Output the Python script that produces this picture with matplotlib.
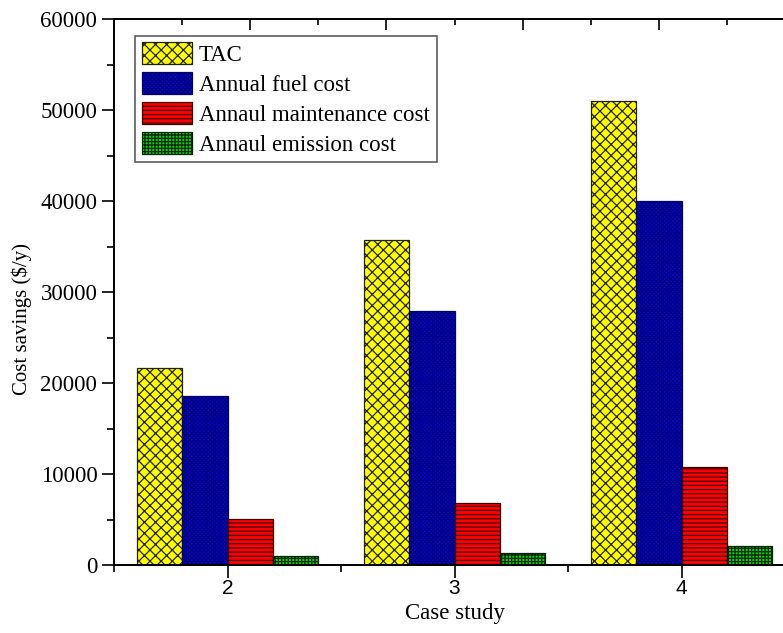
import matplotlib
matplotlib.use("Agg")
import matplotlib.pyplot as plt
import numpy as np
from matplotlib.ticker import MultipleLocator, FixedLocator

# Data
cases = [2, 3, 4]
series_names = ["TAC", "Annual fuel cost", "Annaul maintenance cost", "Annaul emission cost"]
tac = [21700, 35700, 51000]
fuel_cost = [18600, 27900, 40000]
maintenance_cost = [5100, 6800, 10800]
emission_cost = [950, 1300, 2100]

face_colors = ["#FFFF00", "#0000FF", "#FF0000", "#00DD00"]
edge_colors = ["#202000", "#00006A", "#400000", "#002000"]
hatches = ["xxx", "xxxxxxxx", "----", "+++++"]

plt.rcParams["hatch.linewidth"] = 0.9
plt.rcParams["font.family"] = ["Liberation Serif", "DejaVu Serif"]

fig = plt.figure(figsize=(7.83, 6.33), dpi=100)
ax = fig.add_axes([114 / 783, 68 / 633, (795 - 114) / 783, (565 - 19) / 633])

bar_w = 0.2
offsets = np.array([-1.5, -0.5, 0.5, 1.5]) * bar_w
x = np.array(cases, dtype=float)
all_series = [tac, fuel_cost, maintenance_cost, emission_cost]
for vals, off, fc, ec, h, name in zip(all_series, offsets, face_colors, edge_colors, hatches, series_names):
    ax.bar(x + off, vals, width=bar_w, color=fc, edgecolor=ec, hatch=h,
           linewidth=0.9, label=name, zorder=2)

ax.set_xlim(1.5, 4.5)
ax.set_ylim(0, 60000)

ax.xaxis.set_major_locator(FixedLocator(cases))
ax.xaxis.set_minor_locator(FixedLocator([1.5, 2.5, 3.5, 4.5]))
ax.yaxis.set_major_locator(MultipleLocator(10000))
ax.yaxis.set_minor_locator(MultipleLocator(5000))

ax.tick_params(axis="both", which="major", direction="out", length=9, width=1.2)
ax.tick_params(axis="both", which="minor", direction="out", length=5, width=1.2)
ax.tick_params(axis="y", labelsize=16.5, pad=3)
ax.tick_params(axis="x", labelsize=15, pad=1)
for lbl in ax.get_xticklabels():
    lbl.set_fontfamily(["Liberation Sans", "DejaVu Sans"])

for side in ["left", "bottom", "top", "right"]:
    ax.spines[side].set_linewidth(1.3)

ax.set_xlabel("Case study", fontsize=16.5, labelpad=4)
ax.set_ylabel("Cost savings ($/y)", fontsize=15)
ax.yaxis.set_label_coords(-0.12, 0.45)

# Top axis ticks (inward, unlabeled)
top = ax.twiny()
top.set_xlim(0, 1)
top.xaxis.set_major_locator(MultipleLocator(0.2))
top.xaxis.set_minor_locator(MultipleLocator(0.1))
top.tick_params(axis="x", which="major", direction="in", length=8, width=1.2, labeltop=False)
top.tick_params(axis="x", which="minor", direction="in", length=4.5, width=1.2)
for side in ["left", "bottom", "top", "right"]:
    top.spines[side].set_linewidth(1.3)

leg = ax.legend(loc="upper left", bbox_to_anchor=(0.024, 0.978), fontsize=16.5,
                frameon=True, fancybox=False, edgecolor="#333333",
                handlelength=2.2, handleheight=1.1, handletextpad=0.3,
                labelspacing=0.26, borderpad=0.3, borderaxespad=0.2)
leg.get_frame().set_linewidth(1.2)

fig.savefig("out.png", dpi=100)
